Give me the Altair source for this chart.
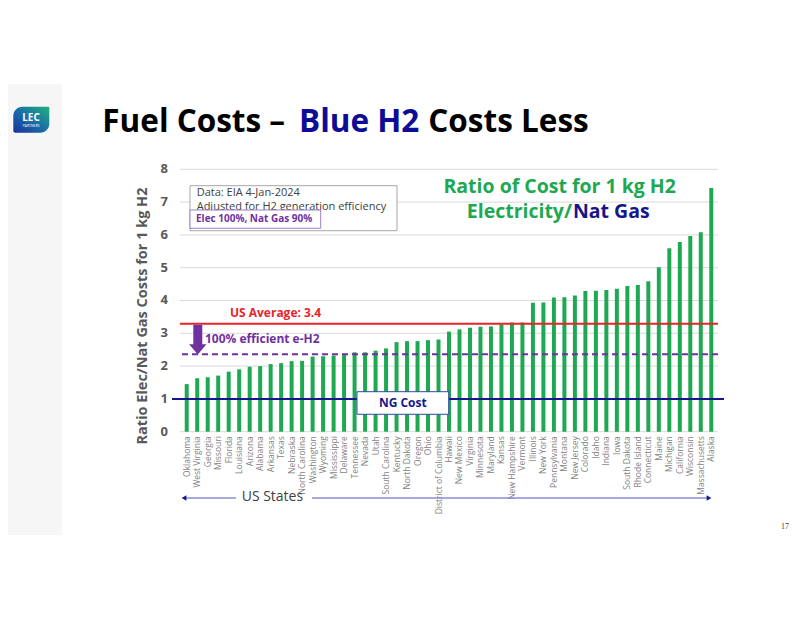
import altair as alt
import pandas as pd

# ---------------- data ----------------
states = ["Oklahoma", "West Virginia", "Georgia", "Missouri", "Florida", "Louisiana",
          "Arizona", "Alabama", "Arkansas", "Texas", "Nebraska", "North Carolina",
          "Washington", "Wyoming", "Mississippi", "Delaware", "Tennessee", "Nevada",
          "Utah", "South Carolina", "Kentucky", "North Dakota", "Oregon", "Ohio",
          "District of Columbia", "Hawaii", "New Mexico", "Virginia", "Minnesota",
          "Maryland", "Kansas", "New Hampshire", "Vermont", "Illinois", "New York",
          "Pennsylvania", "Montana", "New Jersey", "Colorado", "Idaho", "Indiana",
          "Iowa", "South Dakota", "Rhode Island", "Connecticut", "Maine", "Michigan",
          "California", "Wisconsin", "Massachusetts", "Alaska"]
ratios = [1.45, 1.63, 1.66, 1.71, 1.83, 1.90, 1.98, 2.00, 2.06, 2.09, 2.15, 2.16,
          2.29, 2.30, 2.32, 2.37, 2.42, 2.42, 2.47, 2.54, 2.73, 2.76, 2.76, 2.79,
          2.81, 3.05, 3.12, 3.17, 3.20, 3.21, 3.27, 3.33, 3.33, 3.93, 3.94, 4.09,
          4.10, 4.15, 4.29, 4.30, 4.32, 4.36, 4.44, 4.47, 4.59, 5.01, 5.59, 5.78,
          5.97, 6.08, 7.43]
y_ticks = [0, 1, 2, 3, 4, 5, 6, 7, 8]
us_average_line = [3.29]
efficient_line = [2.36]
ng_cost_line = [1.0]
arrow_shaft = [3.26, 2.62]
arrow_head = [2.51]

title_parts = ["Fuel Costs \u2013 ", "Blue H2", " Costs Less"]
chart_title_1 = ["Ratio of Cost for 1 kg H2"]
chart_title_2 = ["Electricity/", "Nat Gas"]
y_title = ["Ratio Elec/Nat Gas Costs for 1 kg H2"]
note_lines = ["Data: EIA 4-Jan-2024", "Adjusted for H2 generation efficiency"]
note_box = ["Elec 100%, Nat Gas 90%"]
avg_label = ["US Average: 3.4"]
eff_label = ["100% efficient e-H2"]
ng_label = ["NG Cost"]
x_title = ["US States"]
page_num = ["17"]
logo_text = ["LEC", "PARTNERS"]

# ---------------- styles ----------------
FONT = "Open Sans"
GREEN = "#1DA851"
RED = "#E8242A"
NAVY = "#16168A"
TITLE_BLUE = "#0C0C96"
PURPLE = "#7030A0"
GRAY = "#595959"
W, H = 538, 262.4

Y_SCALE = alt.Scale(domain=[0, 8], nice=False)


def Y(field="ratio:Q"):
    return alt.Y(field, title=None, scale=Y_SCALE, axis=None)


df = pd.DataFrame({"state": states, "ratio": ratios})
tick_df = pd.DataFrame({"ratio": y_ticks, "label": [str(v) for v in y_ticks]})

grid = alt.Chart(tick_df).mark_rule(color="#D9D9D9", strokeWidth=1).encode(y=Y())
ylabels = alt.Chart(tick_df).mark_text(
    align="right", baseline="middle", fontSize=13, fontWeight="bold", color=GRAY, font=FONT
).encode(x=alt.value(-12), y=Y(), text="label:N")

bars = alt.Chart(df).mark_bar(color=GREEN).encode(
    x=alt.X("state:N", sort=None, title=None,
            scale=alt.Scale(paddingInner=0.62, paddingOuter=0.45),
            axis=alt.Axis(labelAngle=270, labelAlign="right", labelBaseline="middle",
                          labelPadding=4, ticks=False, domain=False, labelFontSize=8.5,
                          labelColor="#7F7F7F", labelFont=FONT, labelOverlap=False,
                          labelLimit=0)),
    y=Y(),
)


def hline(vals, color, width, dash=None, x0=None, x1=None):
    d = pd.DataFrame({"ratio": vals})
    kw = dict(color=color, strokeWidth=width)
    if dash:
        kw["strokeDash"] = dash
    enc = dict(y=Y())
    if x0 is not None:
        enc["x"] = alt.value(x0)
        enc["x2"] = alt.value(x1)
    return alt.Chart(d).mark_rule(**kw).encode(**enc)


def text(t, x, y, size, color, weight="normal", align="left", angle=0, font=FONT,
         baseline="middle"):
    d = pd.DataFrame({"t": [t]})
    kw = dict(fontSize=size, color=color, fontWeight=weight, align=align,
              baseline=baseline, font=font)
    if angle:
        kw["angle"] = angle
    return alt.Chart(d).mark_text(**kw).encode(x=alt.value(x), y=alt.value(y), text="t:N")


def box(x0, x1, y0, y1, stroke, fill="white", sw=1):
    d = pd.DataFrame({"k": [0]})
    kw = dict(fill=fill)
    if stroke:
        kw["stroke"] = stroke
        kw["strokeWidth"] = sw
    return alt.Chart(d).mark_rect(**kw).encode(
        x=alt.value(x0), x2=alt.value(x1), y=alt.value(y0), y2=alt.value(y1))


# background panel on the left and logo
panel = box(-190, -118, -85.3, 365.7, None, fill="#F6F6F6")
logo = alt.Chart(pd.DataFrame({"k": [0]})).mark_rect(
    fill=alt.Gradient(gradient="linear", x1=0, y1=1, x2=1, y2=0,
                      stops=[alt.GradientStop(color="#1B2F9A", offset=0),
                             alt.GradientStop(color="#1A6FA8", offset=0.5),
                             alt.GradientStop(color="#22B07A", offset=1)]),
    cornerRadiusTopLeft=9, cornerRadiusBottomRight=9, cornerRadiusTopRight=1,
    cornerRadiusBottomLeft=2,
).encode(x=alt.value(-166.7), x2=alt.value(-130.7), y=alt.value(-62.6), y2=alt.value(-36.6))
logo_t1 = text(logo_text[0], -149, -51.5, 10, "white", "bold", "center")
logo_t2 = text(logo_text[1], -149, -43.5, 3.5, "white", "normal", "center")

# main title pieces
t1 = text(title_parts[0], -77.7, -37.6, 31.5, "black", "bold", baseline="alphabetic")
t2 = text(title_parts[1], 119, -37.6, 31.5, TITLE_BLUE, "bold", baseline="alphabetic")
t3 = text(title_parts[2], 248.3, -37.6, 31.5, "black", "bold", baseline="alphabetic")

# y axis title
yt = text(y_title[0], -37, 146.7, 14.5, GRAY, "bold", "center", angle=270)

# reference lines
avg = hline(us_average_line, RED, 2)
eff = hline(efficient_line, PURPLE, 2, dash=[6, 4])
ng = hline(ng_cost_line, NAVY, 2, x0=-8, x1=W + 6)

shaft = alt.Chart(pd.DataFrame({"ratio": [arrow_shaft[0]], "r2": [arrow_shaft[1]]})).mark_rule(
    color=PURPLE, strokeWidth=9).encode(x=alt.value(17.8), y=Y(), y2="r2:Q")
head = alt.Chart(pd.DataFrame({"ratio": arrow_head})).mark_point(
    shape="M-1,-0.6L1,-0.6L0,0.6Z", filled=True, opacity=1, size=300, color=PURPLE).encode(
    x=alt.value(17.8), y=Y())

avg_t = text(avg_label[0], 50, 144, 12, RED, "bold")
eff_t = text(eff_label[0], 25, 169.7, 12, PURPLE, "bold")

# note box
nb = box(10, 217, 16.4, 61.4, "#A6A6A6")
n1 = text(note_lines[0], 16.7, 24, 11, "#404040")
n2 = text(note_lines[1], 16.7, 37.4, 11, "#404040")
nb2 = box(10, 140.7, 40.7, 59, "#9B7FC4")
n3 = text(note_box[0], 16, 49.9, 10, PURPLE, "bold")

# NG cost box
ngb = box(177, 268.7, 222.4, 245, "#2E4A9E")
ngt = text(ng_label[0], 222.8, 233.7, 12, NAVY, "bold", "center")

# chart title
ct1 = text(chart_title_1[0], 379.7, 18, 19.5, GREEN, "bold", "center")
ct2 = text(chart_title_2[0], 392, 42.4, 19.5, GREEN, "bold", "right")
ct3 = text(chart_title_2[1], 393, 42.4, 19.5, NAVY, "bold", "left")

# US states arrow
xs_t = text(x_title[0], 61.7, 328, 14, "#404040")
line_l = alt.Chart(pd.DataFrame({"k": [0]})).mark_rule(color="#8C8CD9", strokeWidth=1.5).encode(
    x=alt.value(5), x2=alt.value(56), y=alt.value(328.7))
line_r = alt.Chart(pd.DataFrame({"k": [0]})).mark_rule(color="#8C8CD9", strokeWidth=1.5).encode(
    x=alt.value(132), x2=alt.value(528), y=alt.value(328.7))
ah_l = alt.Chart(pd.DataFrame({"k": [0]})).mark_point(
    shape="triangle-left", filled=True, opacity=1, size=30, color=NAVY).encode(
    x=alt.value(4), y=alt.value(328.7))
ah_r = alt.Chart(pd.DataFrame({"k": [0]})).mark_point(
    shape="triangle-right", filled=True, opacity=1, size=30, color=NAVY).encode(
    x=alt.value(529), y=alt.value(328.7))

pn = text(page_num[0], 605, 357.7, 8, "#404040", font="Liberation Serif", align="center")

chart = alt.layer(
    panel, logo, logo_t1, logo_t2, t1, t2, t3, yt,
    grid, ylabels,
    bars, avg, eff, ng, shaft, head, avg_t, eff_t,
    nb, n1, n2, nb2, n3, ngb, ngt, ct1, ct2, ct3,
    line_l, line_r, ah_l, ah_r, xs_t, pn,
).properties(
    width=W, height=H,
    autosize=alt.AutoSizeParams(type="none"),
    padding={"left": 172, "top": 161.3, "right": 74, "bottom": 170},
    background="white",
).configure_view(stroke=None)

chart.save("out.html", embed_options={"renderer": "svg", "actions": False})
